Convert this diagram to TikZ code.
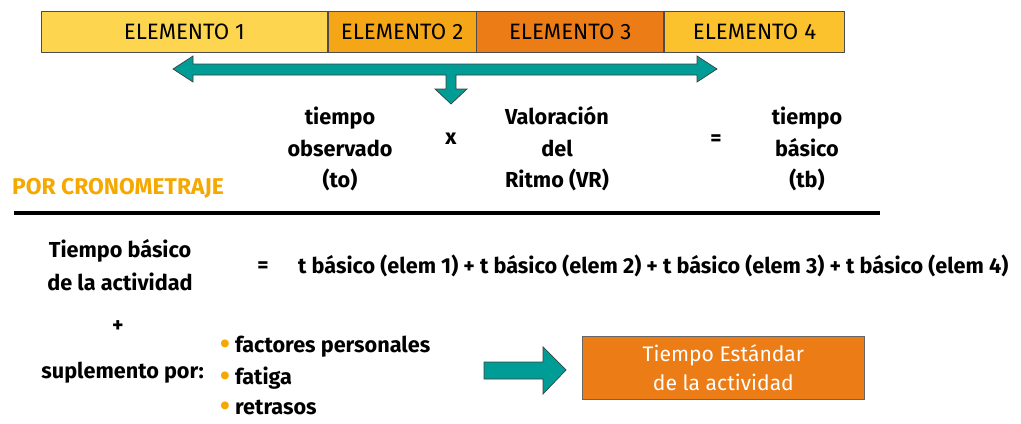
\documentclass[tikz,border=0pt]{standalone}
\usepackage{fontspec}
\setmainfont{Fira Sans}
\usetikzlibrary{positioning}
\definecolor{elemA}{HTML}{FDD54E}
\definecolor{elemB}{HTML}{F5A616}
\definecolor{elemC}{HTML}{EC7C16}
\definecolor{elemD}{HTML}{FBC22E}
\definecolor{tealfill}{HTML}{009C96}
\definecolor{titleorange}{HTML}{F5A800}
\newcommand{\vineta}{\textcolor{titleorange}{\raisebox{-0.03cm}{\scalebox{1.3}{•}}}}

\begin{document}
\begin{tikzpicture}[x=0.03cm, y=-0.03cm,
  font=\fontsize{18.5}{27}\selectfont\bfseries,
  elem/.style={draw=black!70, line width=0.6pt, minimum height=1.23cm,
    inner sep=0pt, font=\fontsize{19}{22}\selectfont},
  txt/.style={align=center, inner sep=0pt},
  tealarrow/.style={fill=tealfill, draw=black!75, line width=0.6pt, line join=miter}]
 \useasboundingbox (0,0) rectangle (1021,423);

 % barra de elementos
 \node (e1) [elem, fill=elemA, minimum width=8.58cm, anchor=west] at (41,31.5) {ELEMENTO 1};
 \node (e2) [elem, fill=elemB, minimum width=4.44cm, right=0pt of e1] {ELEMENTO 2};
 \node (e3) [elem, fill=elemC, minimum width=5.61cm, right=0pt of e2] {\raisebox{-0.12cm}{ELEMENTO 3}};
 \node (e4) [elem, fill=elemD, minimum width=5.4cm, right=0pt of e3] {ELEMENTO 4};

 % flecha doble con salida hacia abajo
 \draw[tealarrow] (173,69) -- (193,56) -- (193,64) -- (697,64) -- (697,56) -- (717,69)
   -- (697,82) -- (697,75) -- (456,75) -- (456,89) -- (467,89) -- (451,104)
   -- (435,89) -- (446,89) -- (446,75) -- (193,75) -- (193,82) -- cycle;

 \node (to) [txt] at (340,149) {tiempo\\observado\\(to)};
 \node (por) [txt] at (451,139) {x};
 \node (vr) [txt] at (557,149) {Valoración\\del\\Ritmo (VR)};
 \node (igual1) [txt] at (716,140) {=};
 \node (tb) [txt] at (807,149) {tiempo\\básico\\(tb)};

 \node (crono) [txt, anchor=west, text=titleorange, font=\fontsize{19.5}{24}\selectfont\bfseries] at (12,188) {POR CRONOMETRAJE};
 \draw[line width=3pt] (14,213) -- (880,213);

 \node (tba) [txt, font=\fontsize{18.5}{28}\selectfont\bfseries] at (120,265) {Tiempo básico\\de la actividad};
 \node (igual2) [txt] at (263,267) {=};
 \node (suma) [txt, anchor=west] at (298,266)
   {t básico (elem 1) + t básico (elem 2) + t básico (elem 3) + t básico (elem 4)};
 \node (mas) [txt] at (118,327) {+};
 \node (supl) [txt, anchor=east] at (204,373) {suplemento por:};

 \node (f1) [txt, anchor=west] at (220,347) {\vineta{} factores personales};
 \node (f2) [txt, anchor=west] at (220,378) {\vineta{} fatiga};
 \node (f3) [txt, anchor=west] at (220,408) {\vineta{} retrasos};

 % flecha hacia el resultado
 \draw[tealarrow] (484,362) -- (543,362) -- (543,347) -- (566,370) -- (543,394)
   -- (543,379) -- (484,379) -- cycle;

 \node (std) [draw=black!60, line width=0.6pt, fill=elemC, text=white, align=center,
   minimum width=8.46cm, minimum height=1.89cm, anchor=north west,
   font=\fontsize{18}{25}\selectfont] at (582,336) {Tiempo Estándar\\de la actividad};
\end{tikzpicture}
\end{document}
